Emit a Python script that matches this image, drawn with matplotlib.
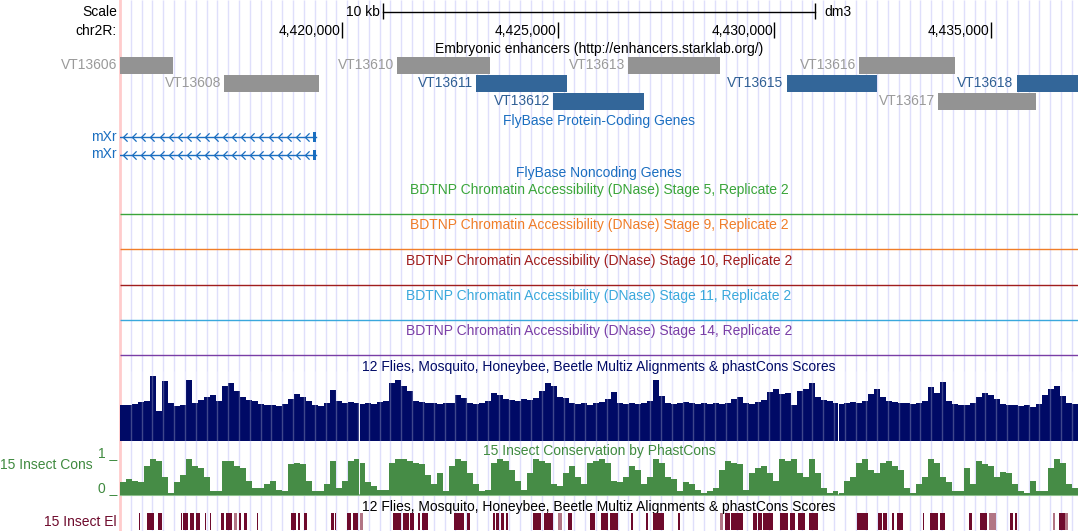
import matplotlib.pyplot as plt
import numpy as np
from matplotlib.path import Path

plt.rcParams['font.family'] = ['Liberation Sans', 'DejaVu Sans']

# view window on chr2R (dm3)
view_start, view_end = 4414880, 4437020
pos_ticks = [4420000, 4425000, 4430000, 4435000]

# Embryonic enhancers (StarkLab VT tiles)
enh_names = ['VT13606', 'VT13608', 'VT13610', 'VT13611', 'VT13612',
             'VT13613', 'VT13615', 'VT13616', 'VT13617', 'VT13618']
enh_start = [4414300, 4417283, 4421288, 4423100, 4424894,
             4426627, 4430287, 4431965, 4433791, 4435603]
enh_end = [4416098, 4419486, 4423431, 4425210, 4426997,
           4428746, 4432367, 4434170, 4436042, 4437600]
enh_row = [0, 1, 0, 1, 2, 0, 1, 0, 2, 1]
enh_active = [0, 0, 0, 1, 1, 0, 1, 0, 0, 1]

# FlyBase gene mXr (two transcripts, minus strand)
mxr_tx_start = 4410000
mxr_exon_start = 4419330
mxr_tx_end = 4419410

# 12 flies multiz conservation (binned, 0-70 scale)
multiz = [36, 36, 37, 39, 40, 65, 30, 60, 38, 35,
          36, 61, 38, 41, 44, 46, 40, 55, 58, 50,
          44, 41, 40, 37, 36, 36, 35, 37, 42, 47,
          44, 40, 36, 35, 38, 51, 40, 38, 39, 38,
          37, 38, 37, 39, 40, 58, 61, 55, 50, 40,
          39, 38, 38, 37, 38, 38, 46, 43, 38, 37,
          38, 40, 48, 46, 42, 41, 40, 42, 41, 43,
          50, 58, 55, 44, 43, 38, 37, 38, 36, 38,
          39, 42, 49, 38, 37, 38, 37, 38, 40, 61,
          45, 38, 37, 38, 39, 38, 37, 38, 37, 38,
          37, 38, 42, 44, 38, 37, 39, 41, 49, 52,
          47, 48, 36, 50, 52, 58, 44, 41, 40, 38,
          37, 38, 39, 38, 40, 47, 52, 44, 40, 39,
          38, 38, 37, 38, 40, 54, 48, 59, 40, 37,
          36, 36, 38, 44, 48, 46, 42, 37, 36, 36,
          35, 36, 34, 37, 46, 52, 55, 45, 38, 37]

# 15 insect phastCons (binned, 0-1)
phastcons = [0.35, 0.45, 0.4, 0.35, 0.8, 1.0, 0.95, 0.5, 0.05, 0.35,
             0.55, 1.0, 0.8, 0.75, 0.5, 0.1, 0.1, 0.95, 0.95, 0.8,
             0.75, 0.4, 0.2, 0.2, 0.3, 0.4, 0.15, 0.1, 0.85, 0.9,
             0.85, 0.4, 0.1, 0.1, 0.3, 0.95, 0.2, 0.4, 0.95, 1.0,
             0.9, 0.35, 0.25, 0.15, 0.15, 0.9, 1.0, 1.0, 0.95, 0.9,
             0.85, 0.55, 0.3, 0.6, 0.1, 0.8, 1.0, 0.95, 0.6, 0.3,
             0.1, 0.15, 0.9, 1.0, 0.95, 0.7, 0.4, 0.15, 0.6, 1.0,
             0.95, 0.9, 0.3, 0.25, 0.6, 0.8, 0.5, 0.3, 0.9, 0.95,
             1.0, 0.9, 0.4, 0.35, 0.5, 0.8, 0.7, 0.3, 0.5, 1.0,
             0.9, 0.5, 0.45, 0.1, 0.35, 0.3, 0.15, 0.05, 0.1, 0.2,
             0.7, 0.95, 0.9, 0.85, 0.15, 0.6, 0.75, 0.8, 0.6, 0.4,
             1.0, 0.95, 1.0, 0.6, 0.5, 1.0, 0.6, 0.2, 0.05, 0.1,
             0.05, 0.4, 0.5, 0.9, 1.0, 0.7, 0.6, 0.9, 0.95, 0.8,
             0.7, 0.2, 0.05, 0.3, 0.5, 1.0, 0.9, 0.5, 0.35, 0.1,
             0.1, 0.75, 0.3, 0.95, 0.85, 0.8, 0.5, 0.65, 0.6, 0.3,
             0.1, 0.05, 0.4, 0.1, 0.1, 0.75, 1.0, 0.9, 0.3, 0.2]

# 15 insect conserved elements
el_start = [4415240, 4415320, 4415510, 4415760, 4416280, 4416340, 4416500, 4416630, 4416835, 4416950,
            4417220, 4417335, 4417515, 4417630, 4417745, 4418055, 4418840, 4419000, 4419135, 4419750,
            4419845, 4420115, 4420255, 4420430, 4421180, 4421410, 4421590, 4421760, 4421850, 4422590,
            4422900, 4423495, 4423570, 4423685, 4423800, 4424420, 4424690, 4425000, 4425230, 4425735,
            4426000, 4426195, 4426695, 4427045, 4427200, 4427775, 4428740, 4428860, 4429010, 4429515,
            4429620, 4429740, 4429820, 4430130, 4430360, 4430555, 4430800, 4431905, 4432405, 4432520,
            4432715, 4432830, 4433445, 4433605, 4433835, 4434505, 4434745, 4434955, 4435455, 4435570,
            4436435, 4436575, 4436730]
el_end = [4415260, 4415350, 4415660, 4415840, 4416320, 4416450, 4416600, 4416730, 4416865, 4416990,
          4417285, 4417475, 4417590, 4417685, 4417805, 4418080, 4418940, 4419045, 4419195, 4419815,
          4419870, 4420215, 4420370, 4420500, 4421370, 4421565, 4421665, 4421820, 4421990, 4422840,
          4422980, 4423535, 4423650, 4423765, 4423840, 4424610, 4424885, 4425090, 4425325, 4425850,
          4426155, 4426390, 4426735, 4427080, 4427450, 4427815, 4428820, 4428975, 4429280, 4429600,
          4429720, 4429800, 4429975, 4430320, 4430490, 4430710, 4431000, 4432175, 4432500, 4432600,
          4432775, 4432985, 4433470, 4433795, 4433950, 4434580, 4434915, 4435120, 4435510, 4435610,
          4436495, 4436730, 4436790]
el_score = [600, 600, 600, 600, 600, 600, 600, 600, 600, 600,
            600, 600, 300, 600, 600, 600, 600, 600, 600, 600,
            600, 600, 600, 300, 600, 600, 600, 600, 600, 600,
            600, 600, 600, 600, 600, 600, 600, 300, 600, 600,
            600, 600, 600, 600, 600, 600, 300, 600, 600, 600,
            600, 600, 600, 600, 600, 600, 600, 600, 600, 600,
            600, 600, 600, 600, 600, 600, 600, 300, 600, 600,
            300, 600, 300]

bdtnp_stages = ['5', '9', '10', '11', '14']
bdtnp_colors = ['#3aa53a', '#f07d28', '#a01e1e', '#3aa8dc', '#7a3ea6']

W_PX, H_PX = 1078, 531
fig = plt.figure(figsize=(W_PX / 100, H_PX / 100), dpi=100)
L, W = 120 / W_PX, 958 / W_PX
ax = fig.add_axes([L, 0, W, 1])
ax.set_xlim(view_start, view_end)
ax.set_ylim(H_PX, 0)
ax.axis('off')

FS = 10
blue = '#1a6ec0'
navy = '#000a66'
green = '#3f8a3f'
maroon = '#6e0a2c'


def track_axes(top, bottom):
    a = fig.add_axes([L, 1 - bottom / H_PX, W, (bottom - top) / H_PX])
    a.set_xlim(view_start, view_end)
    a.axis('off')
    a.patch.set_alpha(0)
    return a


def left_label(y, s, color='black', right=117):
    fig.text(right / W_PX, 1 - y / H_PX, s, ha='right', va='center', fontsize=FS, color=color)


def title(y, s, color):
    ax.text(0.5, y, s, transform=ax.get_yaxis_transform(), ha='center', va='center',
            fontsize=FS, color=color)


# guidelines and left border
grid = np.arange(view_start + 250, view_end, 250)
ax.vlines(grid, 0, H_PX, color='#dfdffb', lw=1, zorder=0)
ax.axvline(view_start, color='#ffcccc', lw=2, zorder=1, clip_on=False)

# scale bar / ruler
left_label(12.5, 'Scale')
left_label(31, 'chr2R:')
mid = (view_start + view_end) / 2
ax.plot([mid - 5000, mid + 5000], [11.7, 11.7], color='black', lw=1)
ax.vlines([mid - 5000, mid + 5000], 3, 19, color='black', lw=1)
ax.annotate('10 kb', (mid - 5000, 12), xytext=(-3, 0), textcoords='offset pixels',
            ha='right', va='center', fontsize=FS)
ax.annotate('dm3', (mid + 5000, 12), xytext=(9, 0), textcoords='offset pixels',
            ha='left', va='center', fontsize=FS)
for t in pos_ticks:
    ax.vlines(t, 22, 38, color='black', lw=1)
    ax.annotate(f'{t:,}', (t, 31), xytext=(-1, 0), textcoords='offset pixels',
                ha='right', va='center', fontsize=FS)

# enhancers
title(49, 'Embryonic enhancers (http://enhancers.starklab.org/)', 'black')
for name, s, e, r, act in zip(enh_names, enh_start, enh_end, enh_row, enh_active):
    s, e = max(s, view_start), min(e, view_end)
    top = 56.5 + 18 * r
    ax.broken_barh([(s, e - s)], (top, 17), color='#336699' if act else '#939393', lw=0)
    ax.annotate(name, (s, top + 8.5), xytext=(-3, 0), textcoords='offset pixels',
                ha='right', va='center', fontsize=FS, annotation_clip=False,
                color='#2f5f94' if act else '#9a9a9a')

# FlyBase genes
title(120.5, 'FlyBase Protein-Coding Genes', blue)
chevron = Path([(0.5, 1), (-0.5, 0), (0.5, -1)], [Path.MOVETO, Path.LINETO, Path.LINETO])
chev_x = np.arange(view_start + 120, mxr_exon_start - 60, 210)
for y in [137, 154.5]:
    ax.plot([max(mxr_tx_start, view_start), mxr_tx_end], [y, y], color=blue, lw=1)
    ax.plot(chev_x, np.full(len(chev_x), y), ls='none', marker=chevron, ms=6,
            mfc='none', mec=blue, mew=0.9)
    ax.broken_barh([(mxr_exon_start, mxr_tx_end - mxr_exon_start)], (y - 5, 10), color=blue, lw=0)
    left_label(y, 'mXr', blue)

title(173, 'FlyBase Noncoding Genes', blue)

# BDTNP DNase tracks
for k, (st, c) in enumerate(zip(bdtnp_stages, bdtnp_colors)):
    y0 = 190 + 35.3 * k
    title(y0, f'BDTNP Chromatin Accessibility (DNase) Stage {st}, Replicate 2', c)
    ax.hlines(y0 + 24, view_start, view_end, color=c, lw=1)

# multiz conservation
title(367, '12 Flies, Mosquito, Honeybee, Beetle Multiz Alignments & phastCons Scores', navy)
am = track_axes(371, 441)
am.set_ylim(0, 70)
edges = np.linspace(view_start, view_end, len(multiz) + 1)
am.bar(edges[:-1], multiz, width=np.diff(edges), align='edge', color=navy, lw=0)
am.vlines(grid, 0, 70, color='white', alpha=0.25, lw=1, snap=True)

# phastCons
title(451, '15 Insect Conservation by PhastCons', green)
left_label(465, '15 Insect Cons', green, right=93)
left_label(453, '1 _', green)
left_label(488, '0 _', green)
ap = track_axes(459, 495)
ap.set_ylim(0, 1)
edges = np.linspace(view_start, view_end, len(phastcons) + 1)
ap.bar(edges[:-1], phastcons, width=np.diff(edges), align='edge', color='#468c46', lw=0)
ax.hlines(494.8, view_start, view_end, color='#8cbf8c', lw=1.5)

# conserved elements
title(507, '12 Flies, Mosquito, Honeybee, Beetle Multiz Alignments & phastCons Scores', 'black')
left_label(522, '15 Insect El', maroon)
ae = track_axes(513, 530)
ae.set_ylim(0, 1)
el_colors = [maroon if sc >= 500 else '#b27585' for sc in el_score]
ae.bar(el_start, 1, width=np.array(el_end) - np.array(el_start), align='edge',
       color=el_colors, lw=0)

fig.savefig('out.png', dpi=100)
